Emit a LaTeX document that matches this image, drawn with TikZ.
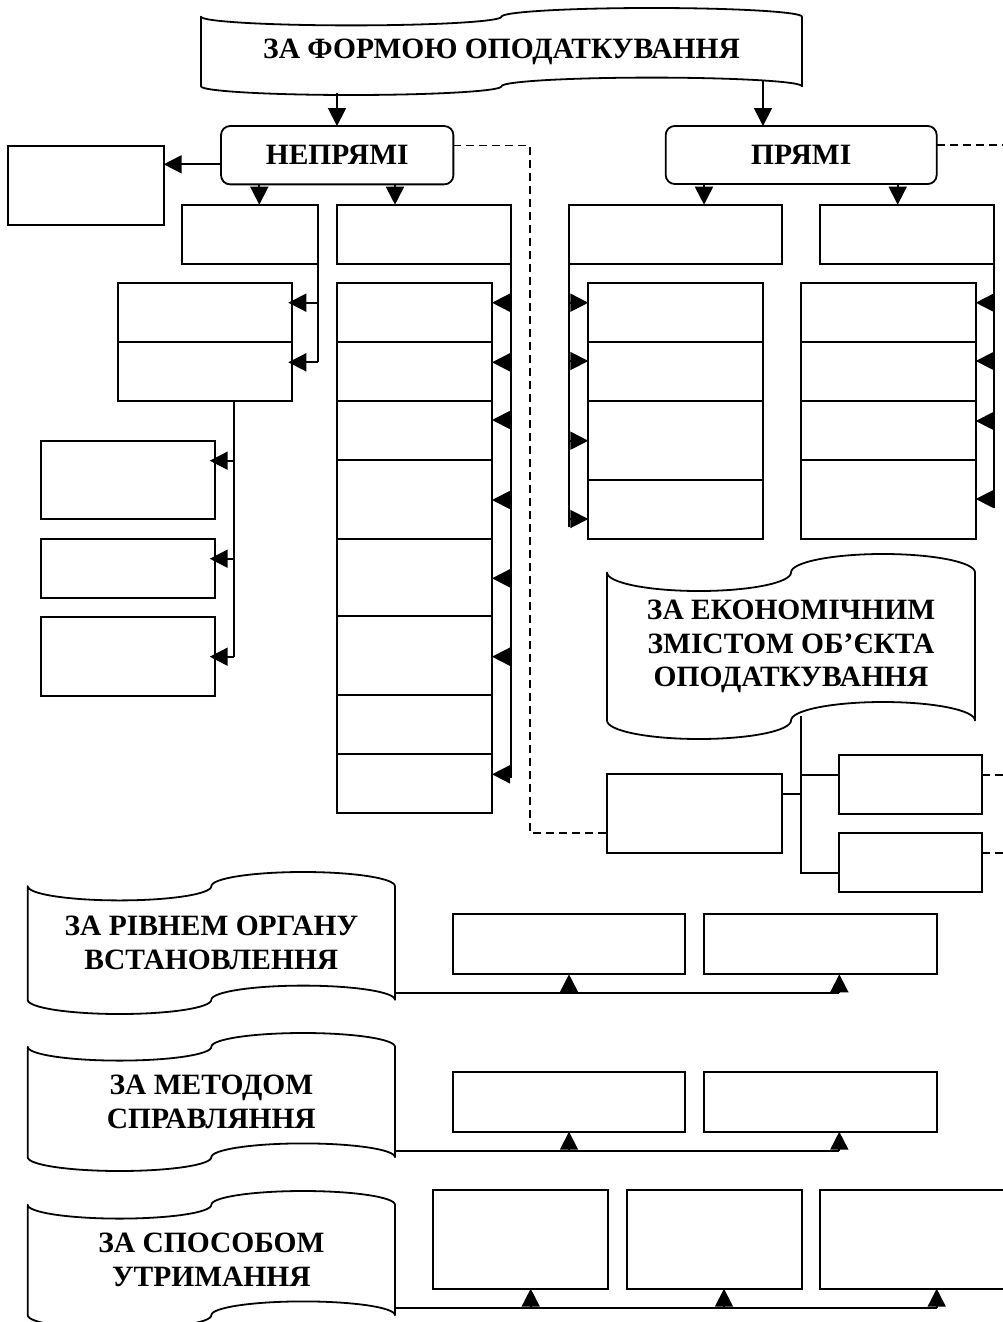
\documentclass[tikz,border=0pt]{standalone}
\usepackage{fontspec}
\setmainfont{Liberation Serif}
\usetikzlibrary{arrows.meta}
\tikzset{
 ln/.style={line width=1.8pt},
 bx/.style={draw, line width=1.8pt, rectangle, inner sep=0pt, outer sep=0pt},
 rbx/.style={bx, rounded corners=9pt},
 arr/.style={line width=1.8pt, -{Triangle[length=18pt,width=18pt]}},
 dsh/.style={line width=1.5pt, dash pattern=on 8pt off 5pt},
 ttl/.style={font=\fontsize{29.5}{33.5}\selectfont\bfseries, align=center, inner sep=0pt},
 tapeline/.style={line width=1.8pt, line join=round},
}
\newcommand\bx[5]{%
 \pgfmathsetmacro\bxW{#4-#2}%
 \pgfmathsetmacro\bxH{#5-#3}%
 \node[bx, minimum width=\bxW pt, minimum height=\bxH pt] (#1) at ({(#2+#4)/2},{(#3+#5)/2}) {};}
\newcommand\tape[6]{%
 \pgfmathsetmacro\tpa{(#5-#3)/10}%
 \pgfmathsetmacro\tpq{(#4-#2)/4}%
 \pgfmathsetmacro\tpk{0.5523*\tpa}%
 \pgfmathsetmacro\tpkq{0.5523*\tpq}%
 \pgfmathsetmacro\tpm{(#2+#4)/2}%
 \pgfmathsetmacro\tpyt{#3+\tpa}%
 \pgfmathsetmacro\tpyb{#5-\tpa}%
 \pgfmathsetmacro\tpxa{#2+\tpq}%
 \pgfmathsetmacro\tpxb{\tpm+\tpq}%
 \draw[tapeline] (#2,\tpyt) .. controls (#2,\tpyt+\tpk) and (\tpxa-\tpkq,\tpyt+\tpa) .. (\tpxa,\tpyt+\tpa)
   .. controls (\tpxa+\tpkq,\tpyt+\tpa) and (\tpm,\tpyt+\tpk) .. (\tpm,\tpyt)
   .. controls (\tpm,\tpyt-\tpk) and (\tpxb-\tpkq,\tpyt-\tpa) .. (\tpxb,\tpyt-\tpa)
   .. controls (\tpxb+\tpkq,\tpyt-\tpa) and (#4,\tpyt-\tpk) .. (#4,\tpyt)
   -- (#4,\tpyb)
   .. controls (#4,\tpyb-\tpk) and (\tpxb+\tpkq,\tpyb-\tpa) .. (\tpxb,\tpyb-\tpa)
   .. controls (\tpxb-\tpkq,\tpyb-\tpa) and (\tpm,\tpyb-\tpk) .. (\tpm,\tpyb)
   .. controls (\tpm,\tpyb+\tpk) and (\tpxa+\tpkq,\tpyb+\tpa) .. (\tpxa,\tpyb+\tpa)
   .. controls (\tpxa-\tpkq,\tpyb+\tpa) and (#2,\tpyb+\tpk) .. (#2,\tpyb)
   -- cycle;
 \node[ttl] (#1) at (\tpm,{(#3+#5)/2}) {#6};}
\begin{document}
\begin{tikzpicture}[x=1pt,y=-1pt]
\clip (0,0) rectangle (1003,1322);
\fill[white] (0,0) rectangle (1003,1322);
% banners
\tape{tform}{201}{8}{802}{95}{ЗА ФОРМОЮ ОПОДАТКУВАННЯ}
\tape{tecon}{607}{554}{975}{739}{ЗА ЕКОНОМІЧНИМ\\ЗМІСТОМ ОБ’ЄКТА\\ОПОДАТКУВАННЯ}
\tape{trivn}{27.7}{872}{395}{1014}{ЗА РІВНЕМ ОРГАНУ\\ВСТАНОВЛЕННЯ}
\tape{tmet}{27.7}{1033}{395}{1171}{ЗА МЕТОДОМ\\СПРАВЛЯННЯ}
\tape{tsp}{27.7}{1191}{395}{1329}{ЗА СПОСОБОМ\\УТРИМАННЯ}
% main nodes
\node[rbx, minimum width=232.3pt, minimum height=58.3pt, font=\fontsize{29.5}{33.5}\selectfont\bfseries] (np) at (337.2,155.2) {НЕПРЯМІ};
\node[rbx, minimum width=271pt, minimum height=58pt, font=\fontsize{29.5}{33.5}\selectfont\bfseries] (pr) at (801.2,155) {ПРЯМІ};
% boxes
\bx{L}{8}{145.7}{163.7}{225}
\bx{A}{182}{204.7}{317.7}{263.7}
\bx{B}{336.7}{204.7}{511.3}{263.7}
\bx{D}{569}{204.7}{781.7}{264.3}
\bx{E}{820}{204.7}{994.3}{264.3}
\bx{C1}{118}{283.3}{292.3}{342.3}
\bx{C2}{118}{342.3}{292.3}{401}
\bx{S1}{40.7}{440.7}{214.7}{519}
\bx{S2}{40.7}{539}{214.7}{597.7}
\bx{S3}{40.7}{617.3}{214.7}{696.3}
\bx{H1}{336.7}{283.3}{492}{342.3}
\bx{H2}{336.7}{342.3}{492}{401}
\bx{H3}{336.7}{401}{492}{460}
\bx{H4}{336.7}{460}{492}{539}
\bx{H5}{336.7}{539}{492}{616}
\bx{H6}{336.7}{616}{492}{695}
\bx{H7}{336.7}{695}{492}{754}
\bx{H8}{336.7}{754}{492}{812.7}
\bx{F1}{588.3}{283.3}{762.7}{342.3}
\bx{F2}{588.3}{342.3}{762.7}{401}
\bx{F3}{588.3}{401}{762.7}{480}
\bx{F4}{588.3}{480}{762.7}{538.7}
\bx{G1}{800.7}{283.3}{975.7}{342.3}
\bx{G2}{800.7}{342.3}{975.7}{401}
\bx{G3}{800.7}{401}{975.7}{460}
\bx{G4}{800.7}{460}{975.7}{538.7}
\bx{E1}{607}{774}{782}{853}
\bx{E2}{839}{755}{982}{814}
\bx{E3}{839}{833}{982}{892}
\bx{R1}{452.7}{914.3}{685.3}{974.3}
\bx{R2}{704.3}{914.3}{936.7}{974.3}
\bx{M1}{452.7}{1072}{685.3}{1131.7}
\bx{M2}{704.3}{1072}{936.7}{1131.7}
\bx{T1}{433.3}{1190}{608}{1288.7}
\bx{T2}{627}{1190}{801.7}{1288.7}
\bx{T3}{820.3}{1190}{1020}{1288.7}
% top connectors
\coordinate (c1) at (337,93);
\coordinate (c2) at (763,81);
\draw[arr] (c1) -- (c1 |- np.north);
\draw[arr] (c2) -- (c2 |- pr.north);
\draw[arr] (np.west |- 0,164.3) -- (L.east |- 0,164.3);
\draw[arr] (259.3,0 |- np.south) -- (259.3,0 |- A.north);
\draw[arr] (395,0 |- np.south) -- (395,0 |- B.north);
\draw[arr] (704,0 |- pr.south) -- (704,0 |- D.north);
\draw[arr] (897.7,0 |- pr.south) -- (897.7,0 |- E.north);
% dashed
\coordinate (dk1) at (530,145.7);
\coordinate (dk2) at (530,833);
\draw[dsh] (np.east |- dk1) -- (dk1) -- (dk2) -- (E1.west |- dk2);
\draw[dsh] (pr.east |- 0,145) -- (1003,145);
\draw[dsh] (E2.east |- 0,775) -- (1003,775);
\draw[dsh] (E3.east |- 0,853) -- (1003,853);
% C feeder
\draw[ln] (A.south east) -- (A.south east |- 0,362.3);
\foreach \yy in {302.7,362.3} \draw[arr] (A.south east |- 0,\yy) -- ([xshift=-4pt]C1.east |- 0,\yy);
% S feeder
\draw[ln] (234,0 |- C2.south) -- (234,656.7);
\draw[arr] (234,460.7) -- ([xshift=-5pt]S1.east |- 0,460.7);
\draw[arr] (234,558.7) -- ([xshift=-5pt]S2.east |- 0,558.7);
\draw[arr] (234,656.7) -- ([xshift=-5pt]S3.east |- 0,656.7);
% H feeder
\draw[ln] (B.south east) -- (B.south east |- 0,778);
\foreach \yy in {302.7,362.3,420,500,578.3,656.7,774.3} \draw[arr] (B.south east |- 0,\yy) -- (H1.east |- 0,\yy);
% F feeder
\draw[ln] (D.south west) -- (D.south west |- 0,527);
\foreach \yy in {302.7,361,440.7,519} \draw[arr] (D.south west |- 0,\yy) -- (F1.west |- 0,\yy);
% G feeder
\draw[ln] (E.south east) -- (E.south east |- 0,508);
\foreach \yy in {302.7,361,421,499} \draw[arr] (E.south east |- 0,\yy) -- (G1.east |- 0,\yy);
% econ connectors
\coordinate (ej) at (801,716);
\draw[ln] (ej) -- (ej |- 0,873) -- (E3.west |- 0,873);
\draw[ln] (ej |- 0,775) -- (E2.west |- 0,775);
\draw[ln] (E1.east |- 0,794) -- (ej |- 0,794);
% row connectors
\coordinate (r0) at (395,993);
\draw[ln] (r0) -- (839.3,993);
\draw[arr] (569,993) -- (569,0 |- R1.south);
\draw[arr] (839.3,993) -- (839.3,0 |- R2.south);
\coordinate (m0) at (395,1150.7);
\draw[ln] (m0) -- (839.3,1150.7);
\draw[arr] (569,1150.7) -- (569,0 |- M1.south);
\draw[arr] (839.3,1150.7) -- (839.3,0 |- M2.south);
\coordinate (s0) at (395,1307.7);
\draw[ln] (s0) -- (936.7,1307.7);
\draw[arr] (530.7,1307.7) -- (530.7,0 |- T1.south);
\draw[arr] (724,1307.7) -- (724,0 |- T2.south);
\draw[arr] (936.7,1307.7) -- (936.7,0 |- T3.south);
\end{tikzpicture}
\end{document}
